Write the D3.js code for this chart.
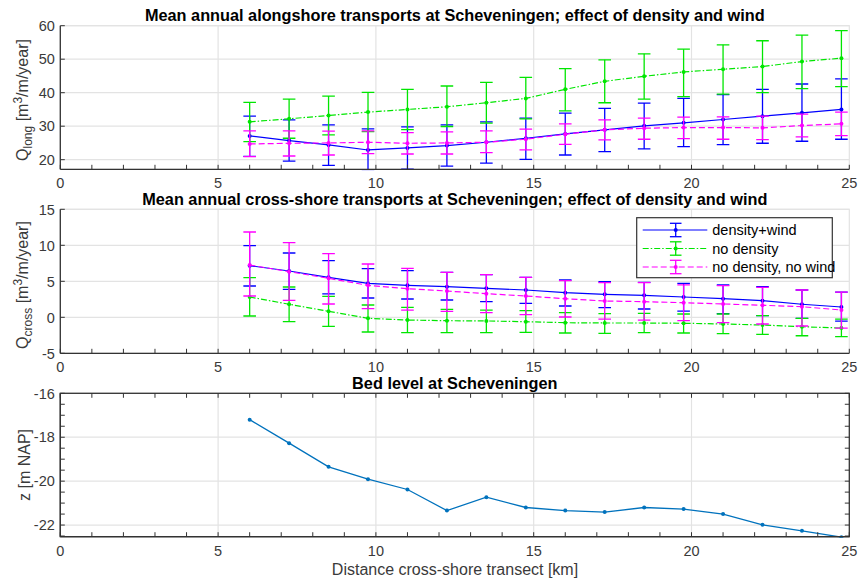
<!DOCTYPE html>
<html><head><meta charset="utf-8">
<script src="https://cdn.jsdelivr.net/npm/d3@7/dist/d3.min.js"></script>
<style>body{margin:0;background:#fff}svg{display:block;font-family:"Liberation Sans",Arial,Helvetica,sans-serif}</style>
</head><body><svg id="c" width="861" height="580"></svg>
<script>
// ---- data ----
const xKm = [6,7.25,8.5,9.75,11,12.25,13.5,14.75,16,17.25,18.5,19.75,21,22.25,23.5,24.75];
const xTicks = [0,5,10,15,20,25];

const longDW   = [27.1,25.7,24.4,22.9,23.5,24.2,25.2,26.4,27.7,28.9,30.1,31.0,32.0,33.0,34.0,35.0];
const longDWhi = [33.0,31.9,30.4,29.2,29.8,30.4,31.3,32.4,33.9,35.3,36.9,38.3,39.4,41.0,42.6,44.1];
const longDWlo = [21.0,19.6,18.3,17.0,17.2,18.1,19.0,20.1,21.4,22.4,23.2,23.9,24.5,24.9,25.5,26.1];
const longND   = [31.3,32.2,33.2,34.2,35.0,35.8,37.0,38.3,41.0,43.4,44.9,46.2,47.0,47.8,49.3,50.3];
const longNDhi = [37.1,38.1,39.0,40.1,41.0,42.0,43.1,44.6,47.2,49.8,51.6,53.0,54.3,55.5,57.2,58.5];
const longNDlo = [25.4,26.4,27.4,28.4,29.0,29.9,30.9,32.2,34.6,37.0,38.1,38.8,39.6,40.0,41.2,41.8];
const longNN   = [24.7,24.9,25.0,25.2,24.9,25.0,25.2,26.1,27.6,28.9,29.4,29.6,29.6,29.5,30.2,30.7];
const longNNhi = [28.6,28.6,28.5,28.6,28.1,28.3,28.6,29.1,30.7,31.9,32.4,32.7,32.8,33.0,33.6,34.2];
const longNNlo = [20.9,21.1,21.4,21.8,21.7,21.7,22.1,22.9,24.6,25.9,26.1,26.3,26.1,26.0,26.8,27.2];
const longTicks = [20,30,40,50,60];

const crossDW   = [7.17,6.43,5.55,4.72,4.44,4.26,4.02,3.79,3.42,3.19,3.05,2.82,2.58,2.31,1.81,1.43];
const crossDWhi = [9.95,8.93,7.87,6.75,6.47,6.25,5.92,5.55,5.18,4.94,4.86,4.72,4.49,4.26,3.79,3.51];
const crossDWlo = [4.35,3.89,3.24,2.68,2.54,2.40,2.17,1.94,1.57,1.33,1.15,0.87,0.50,0.22,-0.14,-0.52];
const crossND   = [2.82,1.81,0.83,-0.14,-0.38,-0.47,-0.51,-0.61,-0.75,-0.79,-0.79,-0.83,-0.93,-1.07,-1.31,-1.49];
const crossNDhi = [5.50,4.21,2.92,1.71,1.39,1.11,1.01,0.92,0.64,0.50,0.55,0.46,0.46,0.22,-0.14,-0.24];
const crossNDlo = [0.18,-0.61,-1.25,-2.04,-2.14,-2.14,-2.14,-2.08,-2.18,-2.22,-2.14,-2.18,-2.28,-2.36,-2.56,-2.69];
const crossNN   = [7.26,6.34,5.41,4.44,3.98,3.65,3.28,2.96,2.58,2.26,2.17,2.03,1.85,1.67,1.47,1.01];
const crossNNhi = [11.85,10.37,8.84,7.40,6.80,6.25,5.92,5.55,5.08,4.81,4.81,4.49,4.39,4.16,3.79,3.51];
const crossNNlo = [2.96,2.36,1.85,1.20,1.01,0.83,0.64,0.36,0.04,-0.24,-0.38,-0.47,-0.75,-0.93,-1.21,-1.49];
const crossTicks = [-5,0,5,10,15];

const bedLevel = [-17.2,-18.27,-19.35,-19.91,-20.38,-21.34,-20.73,-21.2,-21.34,-21.41,-21.2,-21.27,-21.5,-21.99,-22.26,-22.55];
const bedTicks = [-22,-20,-18,-16];

const seriesNames = ["density+wind","no density","no density, no wind"];
const titles = ["Mean annual alongshore transports at Scheveningen; effect of density and wind",
                "Mean annual cross-shore transports at Scheveningen; effect of density and wind",
                "Bed level at Scheveningen"];
const xLabel = "Distance cross-shore transect [km]";

// ---- layout ----
const svg = d3.select("#c");
const L = 60.3, R = 849.3;
const x = d3.scaleLinear().domain([0,25]).range([L,R]);
const AX = "#333", GRID = "#e3e3e3", TXT = "#3a3a3a";
const FT = "14.5px", FL = "16px", FTitle = "16.3px";
const styles = [
  {color:"#0000ff", dash:null},
  {color:"#00e600", dash:"6,2,1.5,2"},
  {color:"#ff00ff", dash:"6,3"}
];

function panel(top, bottom, domain, ticks, minorY, fullBox, id) {
  const y = d3.scaleLinear().domain(domain).range([bottom, top]);
  const g = svg.append("g");
  g.selectAll(null).data(xTicks.filter(t=>t>0&&t<25)).enter().append("line")
    .attr("x1",d=>x(d)).attr("x2",d=>x(d)).attr("y1",top).attr("y2",bottom)
    .attr("stroke",GRID).attr("stroke-width",1.2);
  g.selectAll(null).data(ticks).enter().append("line")
    .attr("x1",L).attr("x2",R).attr("y1",d=>y(d)).attr("y2",d=>y(d))
    .attr("stroke",GRID).attr("stroke-width",1.2);
  g.append("rect").attr("x",L).attr("y",top).attr("width",R-L).attr("height",bottom-top)
    .attr("fill","none").attr("stroke",fullBox?AX:GRID).attr("stroke-width",fullBox?1.3:1.2);
  svg.append("clipPath").attr("id",id).append("rect")
    .attr("x",L).attr("y",top-1).attr("width",R-L+8).attr("height",bottom-top+2);
  const dg = svg.append("g").attr("clip-path",`url(#${id})`);
  return {y, g, dg, top, bottom, ticks, minorY, fullBox};
}

function axes(p) {
  const {y, top, bottom, ticks, minorY, fullBox} = p;
  const g = svg.append("g");
  const tl = 4.5;
  g.append("line").attr("x1",L).attr("x2",R).attr("y1",bottom).attr("y2",bottom).attr("stroke",AX).attr("stroke-width",1.3);
  g.append("line").attr("x1",L).attr("x2",L).attr("y1",top).attr("y2",bottom).attr("stroke",AX).attr("stroke-width",1.3);
  const xt = d3.range(0,26,1);
  g.selectAll(null).data(xt).enter().append("line")
    .attr("x1",d=>x(d)).attr("x2",d=>x(d)).attr("y1",bottom).attr("y2",bottom-tl).attr("stroke",AX);
  if (fullBox) {
    g.selectAll(null).data(xt).enter().append("line")
      .attr("x1",d=>x(d)).attr("x2",d=>x(d)).attr("y1",top).attr("y2",top+tl).attr("stroke",AX);
  }
  const yt = minorY ? d3.range(y.domain()[1], y.domain()[0]-1e-9, -minorY) : ticks;
  g.selectAll(null).data(yt).enter().append("line")
    .attr("x1",L).attr("x2",L+tl).attr("y1",d=>y(d)).attr("y2",d=>y(d)).attr("stroke",AX);
  if (fullBox) {
    g.selectAll(null).data(yt).enter().append("line")
      .attr("x1",R).attr("x2",R-tl).attr("y1",d=>y(d)).attr("y2",d=>y(d)).attr("stroke",AX);
  }
  g.selectAll(null).data(xTicks).enter().append("text")
    .attr("x",d=>x(d)).attr("y",bottom+18.8).attr("text-anchor","middle")
    .attr("font-size",FT).attr("fill",TXT).text(d=>d);
  g.selectAll(null).data(ticks).enter().append("text")
    .attr("x",L-5.5).attr("y",d=>y(d)).attr("dy","0.36em").attr("text-anchor","end")
    .attr("font-size",FT).attr("fill",TXT).text(d=>d);
}

function errSeries(p, vals, hi, lo, st) {
  const {y, dg} = p;
  const line = d3.line().x((d,i)=>x(xKm[i])).y(d=>y(d));
  dg.append("path").datum(vals).attr("d",line).attr("fill","none")
    .attr("stroke",st.color).attr("stroke-width",1.2).attr("stroke-dasharray",st.dash);
  const cw = 6.3;
  const eg = dg.append("g").attr("stroke",st.color).attr("stroke-width",1.3);
  xKm.forEach((xv,i)=>{
    const cx = x(xv);
    eg.append("line").attr("x1",cx).attr("x2",cx).attr("y1",y(lo[i])).attr("y2",y(hi[i]));
    eg.append("line").attr("x1",cx-cw).attr("x2",cx+cw).attr("y1",y(lo[i])).attr("y2",y(lo[i]));
    eg.append("line").attr("x1",cx-cw).attr("x2",cx+cw).attr("y1",y(hi[i])).attr("y2",y(hi[i]));
  });
  dg.selectAll(null).data(vals).enter().append("circle")
    .attr("cx",(d,i)=>x(xKm[i])).attr("cy",d=>y(d)).attr("r",2).attr("fill",st.color);
}

function title(t, yb) {
  svg.append("text").attr("x",(L+R)/2).attr("y",yb).attr("text-anchor","middle")
    .attr("font-size",FTitle).attr("font-weight","bold").attr("fill","#000").text(t);
}

function qLabel(cy, sub) {
  const t = svg.append("text").attr("transform",`translate(28,${cy}) rotate(-90)`)
    .attr("text-anchor","middle").attr("font-size",FL).attr("fill",TXT);
  t.append("tspan").text("Q");
  t.append("tspan").attr("dy",4).attr("font-size","12px").text(sub);
  t.append("tspan").attr("dy",-4).text("\u00a0[m");
  t.append("tspan").attr("dy",-6).attr("font-size","12px").text("3");
  t.append("tspan").attr("dy",6).text("/m/year]");
}

// ---- panel 1 ----
const p1 = panel(25.7, 169.3, [17.13, 60], longTicks, null, false, "c1");
errSeries(p1, longDW, longDWhi, longDWlo, styles[0]);
errSeries(p1, longND, longNDhi, longNDlo, styles[1]);
errSeries(p1, longNN, longNNhi, longNNlo, styles[2]);
axes(p1);
title(titles[0], 21);
qLabel(100, "long");

// ---- panel 2 ----
const p2 = panel(209.3, 353.3, [-5, 15], crossTicks, null, false, "c2");
errSeries(p2, crossDW, crossDWhi, crossDWlo, styles[0]);
errSeries(p2, crossND, crossNDhi, crossNDlo, styles[1]);
errSeries(p2, crossNN, crossNNhi, crossNNlo, styles[2]);
axes(p2);
title(titles[1], 205.3);
qLabel(285, "cross");

// legend
const lg = svg.append("g");
lg.append("rect").attr("x",636.7).attr("y",217.7).attr("width",195.6).attr("height",60)
  .attr("fill","#fff").attr("stroke",AX).attr("stroke-width",1.2);
const legY = [230, 248.5, 267];
seriesNames.forEach((nm,i)=>{
  const st = styles[i], yy = legY[i];
  lg.append("line").attr("x1",642.7).attr("x2",707.3).attr("y1",yy).attr("y2",yy)
    .attr("stroke",st.color).attr("stroke-width",1.2).attr("stroke-dasharray",st.dash);
  const cx = 675.7;
  lg.append("line").attr("x1",cx).attr("x2",cx).attr("y1",yy-6.7).attr("y2",yy+6.7).attr("stroke",st.color).attr("stroke-width",1.3);
  lg.append("line").attr("x1",cx-5.8).attr("x2",cx+5.8).attr("y1",yy-6.7).attr("y2",yy-6.7).attr("stroke",st.color).attr("stroke-width",1.3);
  lg.append("line").attr("x1",cx-5.8).attr("x2",cx+5.8).attr("y1",yy+6.7).attr("y2",yy+6.7).attr("stroke",st.color).attr("stroke-width",1.3);
  lg.append("circle").attr("cx",cx).attr("cy",yy).attr("r",2).attr("fill",st.color);
  lg.append("text").attr("x",712.3).attr("y",yy).attr("dy","0.36em").attr("font-size",FT)
    .attr("fill","#000").text(nm);
});

// ---- panel 3 ----
const p3 = panel(393.3, 536.7, [-22.53, -16], bedTicks, 0.5, true, "c3");
{
  const line = d3.line().x((d,i)=>x(xKm[i])).y(d=>p3.y(d));
  p3.dg.append("path").datum(bedLevel).attr("d",line).attr("fill","none")
    .attr("stroke","#0072BD").attr("stroke-width",1.3);
  p3.dg.selectAll(null).data(bedLevel).enter().append("circle")
    .attr("cx",(d,i)=>x(xKm[i])).attr("cy",d=>p3.y(d)).attr("r",2).attr("fill","#0072BD");
}
axes(p3);
title(titles[2], 388.6);
svg.append("text").attr("transform","translate(30,465) rotate(-90)")
  .attr("text-anchor","middle").attr("font-size",FL).attr("fill",TXT).text("z [m NAP]");
svg.append("text").attr("x",455).attr("y",575).attr("text-anchor","middle")
  .attr("font-size",FL).attr("fill",TXT).text(xLabel);
</script></body></html>
